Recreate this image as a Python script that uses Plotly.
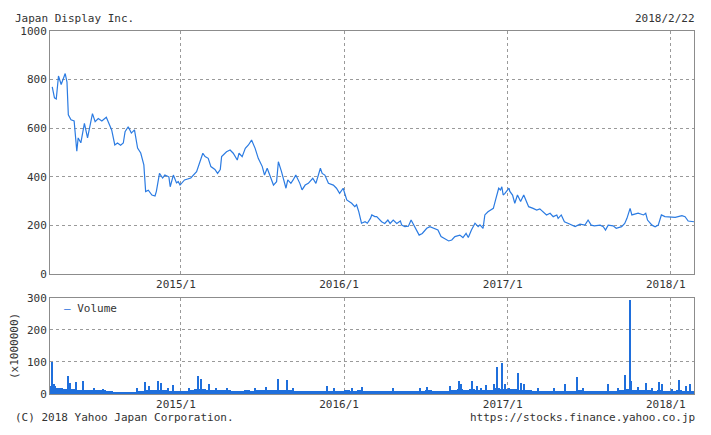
import plotly.graph_objects as go
import pandas as pd

# ---------------- data ----------------
price_dates = [
    "2014-03-19","2014-03-24","2014-03-28","2014-04-02","2014-04-08","2014-04-14","2014-04-17","2014-04-21",
    "2014-04-24","2014-04-30","2014-05-07","2014-05-13","2014-05-16","2014-05-22","2014-05-30","2014-06-06",
    "2014-06-17","2014-06-23","2014-06-30","2014-07-08","2014-07-15","2014-07-18","2014-07-30","2014-08-06",
    "2014-08-12","2014-08-19","2014-08-25","2014-08-29","2014-09-05","2014-09-12","2014-09-19","2014-09-26",
    "2014-10-03","2014-10-10","2014-10-14","2014-10-20","2014-10-28","2014-11-04","2014-11-07","2014-11-14",
    "2014-11-21","2014-11-26","2014-12-05","2014-12-08","2014-12-15","2014-12-22","2014-12-26","2014-12-30",
    "2015-01-09","2015-01-23","2015-02-05","2015-02-12","2015-02-19","2015-02-24","2015-03-03","2015-03-09",
    "2015-03-18","2015-03-24","2015-03-30","2015-04-02","2015-04-13","2015-04-21","2015-04-28","2015-05-07",
    "2015-05-11","2015-05-18","2015-05-25","2015-06-01","2015-06-08","2015-06-16","2015-06-23","2015-07-02",
    "2015-07-07","2015-07-13","2015-07-21","2015-07-27","2015-08-03","2015-08-07","2015-08-14","2015-08-24",
    "2015-08-28","2015-09-04","2015-09-09","2015-09-15","2015-09-24","2015-09-29","2015-10-06","2015-10-13",
    "2015-10-23","2015-10-30","2015-11-09","2015-11-13","2015-11-19","2015-11-27","2015-12-08","2015-12-15",
    "2015-12-22","2015-12-30","2016-01-07","2016-01-18","2016-01-25","2016-01-29","2016-02-03","2016-02-09",
    "2016-02-17","2016-02-22","2016-02-29","2016-03-03","2016-03-10","2016-03-14","2016-03-25","2016-04-01",
    "2016-04-08","2016-04-13","2016-04-20","2016-04-28","2016-05-06","2016-05-09","2016-05-16","2016-05-24",
    "2016-05-30","2016-06-03","2016-06-10","2016-06-17","2016-06-24","2016-07-04","2016-07-11","2016-07-22",
    "2016-07-29","2016-08-05","2016-08-12","2016-08-22","2016-08-29","2016-09-05","2016-09-16","2016-09-23",
    "2016-09-30","2016-10-05","2016-10-12","2016-10-20","2016-10-27","2016-10-31","2016-11-07","2016-11-11",
    "2016-11-18","2016-11-30","2016-12-05","2016-12-12","2016-12-16","2016-12-19","2016-12-22","2016-12-26",
    "2017-01-04","2017-01-06","2017-01-12","2017-01-17","2017-01-23","2017-01-30","2017-02-06","2017-02-13",
    "2017-02-17","2017-02-27","2017-03-07","2017-03-14","2017-03-22","2017-03-29","2017-04-06","2017-04-13",
    "2017-04-21","2017-04-24","2017-05-01","2017-05-08","2017-05-17","2017-05-24","2017-06-01","2017-06-12",
    "2017-06-23","2017-06-30","2017-07-07","2017-07-14","2017-07-27","2017-08-03","2017-08-08","2017-08-14",
    "2017-08-25","2017-09-01","2017-09-13","2017-09-20","2017-09-25","2017-10-02","2017-10-06","2017-10-20",
    "2017-11-01","2017-11-06","2017-11-10","2017-11-20","2017-11-27","2017-12-04","2017-12-11","2017-12-19",
    "2017-12-27","2018-01-11","2018-01-26","2018-02-02","2018-02-09","2018-02-22",
]
price_values = [
    770, 725, 720, 815, 780, 810, 825, 790,
    655, 635, 630, 505, 560, 540, 620, 560,
    660, 627, 640, 630, 640, 645, 593, 531,
    539, 530, 539, 586, 606, 580, 593, 518,
    498, 449, 339, 345, 325, 321, 340, 414,
    395, 407, 400, 359, 407, 375, 380, 366,
    387, 395, 421, 455, 497, 483, 476, 442,
    430, 414, 430, 483, 503, 510, 497, 469,
    497, 483, 517, 531, 551, 517, 476, 442,
    407, 435, 400, 366, 380, 462, 421, 353,
    387, 373, 387, 407, 373, 346, 366, 373,
    394, 373, 435, 414, 407, 373, 366, 353,
    332, 353, 305, 291, 277, 285, 256, 209,
    215, 209, 229, 243, 236, 236, 215, 208,
    222, 208, 222, 208, 218, 201, 195, 197,
    222, 208, 181, 160, 167, 188, 195, 188,
    181, 154, 147, 136, 140, 154, 160, 150,
    167, 150, 181, 209, 195, 202, 188, 243,
    256, 270, 305, 353, 346, 359, 325, 332,
    353, 340, 325, 291, 325, 298, 325, 298,
    277, 270, 263, 268, 256, 243, 250, 236,
    243, 229, 243, 215, 208, 201, 195, 205,
    201, 222, 201, 198, 201, 195, 181, 201,
    198, 188, 195, 208, 229, 270, 243, 250,
    243, 250, 222, 201, 194, 201, 243, 236,
    236, 233, 240, 236, 218, 215,
]

# bi-weekly base volume (x1,000,000 shares)
volume_base_start = "2014-03-21"
volume_base = [
    25, 18, 15, 15, 14, 13, 12, 11, 11, 10, 7, 6, 5, 6, 9, 14, 12, 14, 11, 10, 9,
    10, 11, 16, 15, 13, 11, 12, 11, 10, 10, 11, 10, 11, 12, 11, 14, 13, 12, 10, 9, 8, 9, 10, 9, 8, 9,
    11, 10, 12, 10, 9, 8, 9, 8, 9, 8, 8, 9, 10, 11, 9, 10, 9, 11, 15, 13, 16, 14, 12, 13, 18, 17,
    15, 16, 14, 12, 10, 10, 9, 8, 9, 10, 9, 11, 9, 8, 8, 9, 10, 9, 11, 16, 13, 11, 12, 10, 13, 10,
    9, 11, 10, 10,
]
# single-day volume spikes
spike_dates = [
    "2014-03-19","2014-03-24","2014-04-10","2014-04-24","2014-04-28","2014-05-12","2014-05-27",
    "2014-06-20","2014-07-10","2014-09-26","2014-10-14","2014-10-22","2014-11-12","2014-11-17",
    "2014-12-03","2014-12-15","2015-01-20","2015-02-09","2015-02-16","2015-03-05","2015-03-20",
    "2015-04-15","2015-06-15","2015-07-10","2015-08-06","2015-08-27","2015-09-10","2015-11-24",
    "2015-12-10","2016-01-20","2016-02-10","2016-04-20","2016-06-20","2016-07-04","2016-08-25",
    "2016-09-15","2016-09-20","2016-10-13","2016-10-25","2016-11-02","2016-11-15","2016-12-02",
    "2016-12-09","2016-12-19","2016-12-27","2017-01-05","2017-01-24","2017-02-01","2017-02-08",
    "2017-03-10","2017-04-15","2017-05-09","2017-06-05","2017-06-20","2017-08-14","2017-09-05",
    "2017-09-22","2017-10-02","2017-10-05","2017-10-20","2017-11-08","2017-11-20","2017-12-06",
    "2017-12-12","2018-01-05","2018-01-19","2018-02-05","2018-02-13",
]
spike_values = [
    100, 30, 20, 55, 33, 37, 40,
    18, 15, 20, 37, 25, 40, 35,
    20, 27, 18, 57, 48, 32, 20,
    18, 20, 22, 48, 45, 20, 25,
    18, 20, 22, 18, 20, 22, 25,
    40, 30, 40, 25, 20, 28, 30,
    85, 97, 30, 20, 65, 35, 30,
    20, 18, 32, 52, 20, 32, 18,
    60, 295, 40, 22, 35, 20, 38,
    30, 15, 45, 25, 30,
]

tick_dates = ["2015-01-01", "2016-01-01", "2017-01-01", "2018-01-01"]
tick_labels = ["2015/1", "2016/1", "2017/1", "2018/1"]
price_ticks = [0, 200, 400, 600, 800, 1000]
volume_ticks = [0, 100, 200, 300]

title_left = "Japan Display Inc."
title_right = "2018/2/22"
footer_left = "(C) 2018 Yahoo Japan Corporation."
footer_right = "https://stocks.finance.yahoo.co.jp"
volume_unit = "(x1000000)"
legend_label = "Volume"

# ---------------- figure ----------------
FONT = "DejaVu Sans Mono"
TXT = "#333333"
GRID = "#9a9a9a"
FRAME = "#8c8c8c"
BLUE_LINE = "#2b7be2"
BLUE_BAR = "#1f6fdc"
DAY_MS = 86400000

base_dates = pd.date_range(volume_base_start, periods=len(volume_base), freq="14D")

fig = go.Figure()
fig.add_trace(go.Scatter(
    x=pd.to_datetime(price_dates), y=price_values, mode="lines",
    line=dict(color=BLUE_LINE, width=1.2), xaxis="x", yaxis="y", showlegend=False,
))
fig.add_trace(go.Bar(
    x=base_dates, y=volume_base, width=14 * DAY_MS,
    marker=dict(color=BLUE_BAR, line=dict(width=0)), xaxis="x2", yaxis="y2", showlegend=False,
))
fig.add_trace(go.Bar(
    x=pd.to_datetime(spike_dates), y=spike_values, width=3 * DAY_MS,
    marker=dict(color=BLUE_BAR, line=dict(width=0)), xaxis="x2", yaxis="y2", showlegend=False,
))

xrange_ = ["2014-03-14", "2018-02-22"]
axis_common = dict(
    showline=True, linecolor=FRAME, linewidth=1, mirror=True,
    showgrid=True, gridcolor=GRID, griddash="dot", gridwidth=1,
    zeroline=False, ticks="", tickfont=dict(family=FONT, size=11, color=TXT),
)

# page body has an 8px margin, so the figure is sized/margined to land on the reference pixels
fig.update_layout(
    width=703, height=427,
    margin=dict(l=42, r=17, t=23, b=41),
    paper_bgcolor="white", plot_bgcolor="white",
    font=dict(family=FONT, size=11, color=TXT),
    barmode="overlay", bargap=0,
    xaxis=dict(type="date", range=xrange_, tickvals=tick_dates, ticktext=tick_labels,
               anchor="y", ticklabelshift=-5, **axis_common),
    xaxis2=dict(type="date", range=xrange_, tickvals=tick_dates, ticktext=tick_labels,
                anchor="y2", ticklabelshift=-5, **axis_common),
    yaxis=dict(domain=[0.3306, 1.0], range=[0, 1000], tickvals=price_ticks,
               anchor="x", **axis_common),
    yaxis2=dict(domain=[0.0, 0.2645], range=[0, 300], tickvals=volume_ticks,
                anchor="x2", **axis_common),
)

ann_font = dict(family=FONT, size=11, color=TXT)
fig.add_annotation(text=title_left, xref="paper", yref="paper", x=-0.0575, y=1.0358,
                   xanchor="left", yanchor="middle", showarrow=False, font=ann_font)
fig.add_annotation(text=title_right, xref="paper", yref="paper", x=1.0047, y=1.0358,
                   xanchor="right", yanchor="middle", showarrow=False, font=ann_font)
fig.add_annotation(text=footer_left, xref="paper", yref="paper", x=-0.0575, y=-0.0661,
                   xanchor="left", yanchor="middle", showarrow=False, font=ann_font)
fig.add_annotation(text=footer_right, xref="paper", yref="paper", x=1.0047, y=-0.0661,
                   xanchor="right", yanchor="middle", showarrow=False, font=ann_font)
fig.add_annotation(text=volume_unit, xref="paper", yref="paper", x=-0.0559, y=0.132,
                   xanchor="center", yanchor="middle", textangle=-90, showarrow=False, font=ann_font)
fig.add_annotation(text=f"<span style='color:{BLUE_BAR}'>—</span> {legend_label}",
                   xref="paper", yref="paper", x=0.0186, y=0.2369,
                   xanchor="left", yanchor="middle", showarrow=False, font=ann_font)

fig.write_html("out.html")
